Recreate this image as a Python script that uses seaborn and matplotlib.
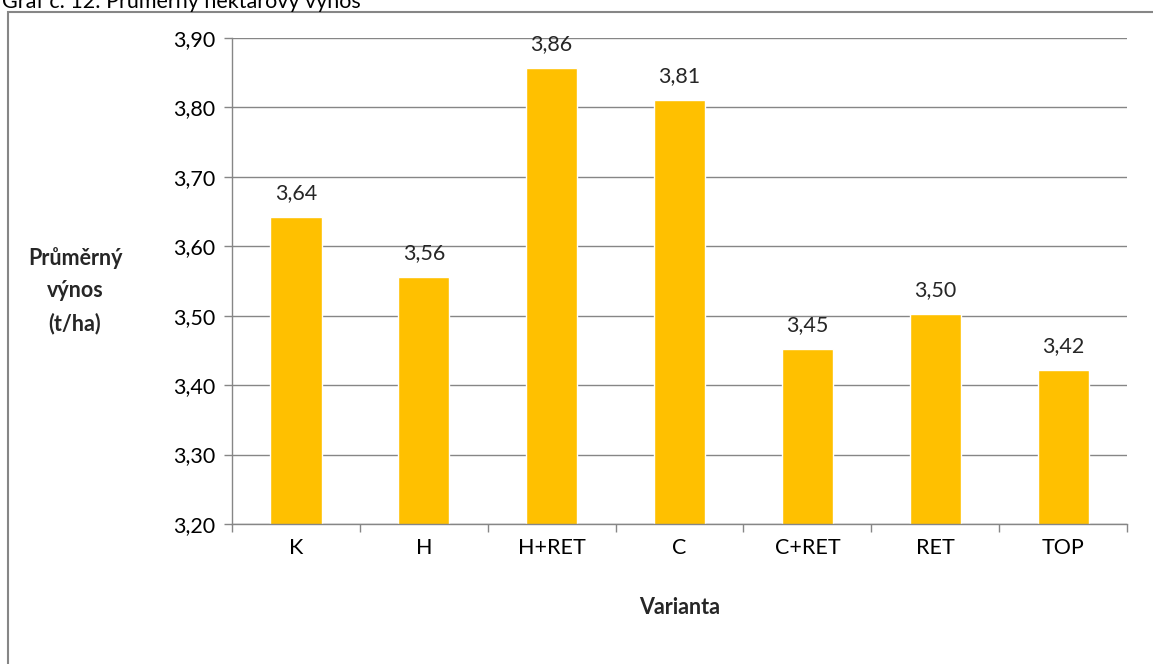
import matplotlib
matplotlib.use("Agg")
import matplotlib.pyplot as plt
import seaborn as sns
import pandas as pd
from matplotlib.patches import Rectangle
from matplotlib.ticker import FixedLocator, FuncFormatter

# Average yield per variant (t/ha)
varianty = ["K", "H", "H+RET", "C", "C+RET", "RET", "TOP"]
vynos = [3.642, 3.556, 3.857, 3.811, 3.452, 3.502, 3.422]
y_ticks = [3.20, 3.30, 3.40, 3.50, 3.60, 3.70, 3.80, 3.90]

df = pd.DataFrame({"Varianta": varianty, "Vynos": vynos})

sns.set_theme(style="white")
plt.rcParams["font.family"] = ["Lato", "DejaVu Sans"]

FS = 15.5

fig = plt.figure(figsize=(11.53, 6.64), dpi=100)
ax = fig.add_axes([232 / 1153, 1 - 524 / 664, (1127 - 232) / 1153, (524 - 38) / 664])

sns.barplot(data=df, x="Varianta", y="Vynos", order=varianty, color="#FFC000",
            saturation=1, width=0.4, ax=ax)

ax.set_ylim(3.20, 3.90)
ax.set_xlim(-0.5, len(varianty) - 0.5)
ax.set_yticks(y_ticks)
ax.yaxis.set_major_formatter(FuncFormatter(lambda v, _: f"{v:.2f}".replace(".", ",")))
ax.yaxis.grid(True, color="#868686", linewidth=1)
ax.set_axisbelow(True)

for s in ["top", "right"]:
    ax.spines[s].set_visible(False)
for s in ["left", "bottom"]:
    ax.spines[s].set_color("#868686")
    ax.spines[s].set_linewidth(1)

ax.tick_params(axis="y", which="major", length=6, width=1, color="#868686",
               labelsize=FS, labelcolor="black", pad=6, direction="out", left=True)
ax.tick_params(axis="x", which="major", length=0, labelsize=FS, labelcolor="black", pad=10)
ax.xaxis.set_minor_locator(FixedLocator([i - 0.5 for i in range(len(varianty) + 1)]))
ax.tick_params(axis="x", which="minor", length=6, width=1, color="#868686", direction="out", bottom=True)

for i, v in enumerate(vynos):
    ax.annotate(f"{v:.2f}".replace(".", ","), (i, v), xytext=(0, 10),
                textcoords="offset points", ha="center", va="bottom", fontsize=FS)

ax.set_xlabel("Varianta", fontsize=FS, fontweight="bold", labelpad=28)
ax.set_ylabel("")
fig.text(75 / 1153, 1 - 291 / 664, "Průměrný\nvýnos\n(t/ha)", ha="center", va="center",
         fontsize=FS, fontweight="bold", linespacing=1.65)

# Outer chart frame
fig.patches.append(Rectangle((8 / 1153, -0.1), 1.2, 1 - 12 / 664 + 0.1, transform=fig.transFigure,
                             fill=False, edgecolor="#868686", linewidth=1.5))

# Caption at the top edge
fig.text(2 / 1153, 1 - 2 / 664, "Graf č. 12: Průměrný hektarový výnos", ha="left", va="center",
         fontsize=FS, color="black")

fig.savefig("out.png", dpi=100)
